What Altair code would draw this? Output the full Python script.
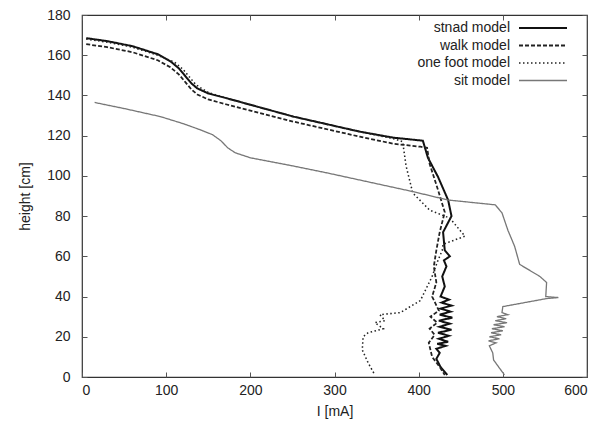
import altair as alt
import pandas as pd

models = ["stnad model", "walk model", "one foot model", "sit model"]

stand_x = [5, 30, 60, 90, 105, 115, 123, 130, 137, 150, 172, 251, 330, 370, 405, 411, 423, 435, 439, 429, 431,
           437, 430, 433, 428, 431, 426, 436, 427, 439, 426, 438, 425, 440, 424, 437, 425, 439, 423, 436, 424,
           435, 422, 432, 421, 425, 421, 426, 434]
stand_y = [168.5, 167, 164.5, 160.5, 157, 153.5, 149.5, 146, 143.5, 141, 138.6, 129.5, 122, 119, 117.5, 109,
           99.5, 88, 80, 72, 63, 60, 58, 55, 50, 45, 40, 38.5, 37, 35.5, 34, 32.5, 31, 29.5, 28, 26.5, 25, 23.5,
           22, 20.5, 19, 17.5, 16.5, 15.5, 14, 12, 9, 5, 1]

walk_x = [5, 30, 60, 90, 105, 115, 123, 130, 137, 150, 172, 251, 330, 370, 402, 410, 413, 423, 431, 425, 421,
          418, 421, 416, 424, 414, 422, 413, 419, 412, 416, 425, 431]
walk_y = [165.5, 164, 161.5, 157.5, 154, 150.5, 146.5, 143, 140.5, 138, 135.5, 127, 119.5, 116, 114.5, 114, 106,
          93, 82, 72, 63, 55, 47, 40, 33, 30, 27, 24, 21, 17, 10, 5, 1]

foot_x = [5, 30, 60, 90, 110, 120, 128, 135, 142, 150, 172, 251, 330, 370, 381, 385, 393, 413, 437, 455, 429,
          428, 422, 416, 402, 378, 354, 360, 348, 358, 340, 334, 333, 340, 348]
foot_y = [168, 166.5, 164, 160, 156.5, 153, 149, 145.5, 143.5, 141.5, 138.6, 129.5, 122, 118.5, 117, 105, 91.5,
          83, 79, 70, 66, 63, 57, 50, 38, 32, 31, 28, 27, 24, 22, 20, 13.5, 7, 1]

sit_x = [15, 50, 93, 120, 140, 155, 165, 173, 182, 200, 250, 291, 393, 435, 491, 499, 506, 514, 520, 544, 552,
         551, 566, 552, 500, 499, 506, 493, 504, 491, 505, 489, 502, 487, 500, 486, 498, 484, 496, 483, 492, 484,
         488, 489, 495, 502]
sit_y = [136.5, 133.5, 129.5, 126, 123, 120.5, 117.5, 114, 111.5, 109, 105, 101.5, 92.2, 88, 85.6, 81.6, 73, 65,
         56, 50, 47, 40, 39.5, 39, 35, 32, 31, 30, 29, 28, 27, 26, 25, 24, 23, 22, 21, 20, 19, 18, 17, 15.5, 12,
         8.5, 5, 1]

x_ticks = [0, 100, 200, 300, 400, 500, 600]
y_ticks = [0, 20, 40, 60, 80, 100, 120, 140, 160, 180]

rows = []
for name, xs, ys in zip(models, [stand_x, walk_x, foot_x, sit_x], [stand_y, walk_y, foot_y, sit_y]):
    for i, (xv, yv) in enumerate(zip(xs, ys)):
        rows.append({"model": name, "I": xv, "h": yv, "idx": i})
df = pd.DataFrame(rows)

FONT = "Liberation Sans"

xscale = alt.Scale(domain=[0, 600], nice=False)
yscale = alt.Scale(domain=[0, 180], nice=False)

lines = alt.Chart(df).mark_line().encode(
    x=alt.X("I:Q", scale=xscale, axis=alt.Axis(
        values=x_ticks, title="I [mA]", orient="bottom", offset=-5, tickSize=5, labelPadding=6,
        titlePadding=7, domain=False, grid=False, labelFontSize=14, titleFontSize=14,
        labelFont=FONT, titleFont=FONT, titleFontWeight="normal", labelColor="#222", titleColor="#222",
        tickColor="#555")),
    y=alt.Y("h:Q", scale=yscale, axis=alt.Axis(
        values=y_ticks, title="height [cm]", orient="left", offset=-5, tickSize=5, labelPadding=12,
        titlePadding=14, domain=False, grid=False, labelFontSize=14, titleFontSize=14,
        labelFont=FONT, titleFont=FONT, titleFontWeight="normal", labelColor="#222", titleColor="#222",
        tickColor="#555")),
    order="idx:Q",
    color=alt.Color("model:N", scale=alt.Scale(domain=models, range=["#111", "#222", "#222", "#777"]),
                    legend=alt.Legend(title=None, orient="none", legendX=452, legendY=4,
                                      symbolType="M-3,0H3", symbolSize=256, labelAlign="right",
                                      labelOffset={"expr": "-42"}, labelFontSize=14, labelFont=FONT,
                                      labelColor="#222", rowPadding=1.5, padding=0,
                                      symbolStrokeWidth=1.5, symbolFillColor="transparent")),
    strokeDash=alt.StrokeDash("model:N", scale=alt.Scale(domain=models, range=[[1, 0], [4, 2], [1.5, 2.5], [1, 0]]),
                              legend=None),
    strokeWidth=alt.StrokeWidth("model:N", scale=alt.Scale(domain=models, range=[2, 1.3, 1.3, 1]),
                                legend=None),
)

mirror = alt.Chart(df).mark_point(opacity=0).encode(
    x=alt.X("I:Q", scale=xscale, axis=alt.Axis(values=x_ticks, orient="top", offset=-5, tickSize=5,
                                               labels=False, title=None, domain=False, grid=False,
                                               tickColor="#555")),
    y=alt.Y("h:Q", scale=yscale, axis=alt.Axis(values=y_ticks, orient="right", offset=-5, tickSize=5,
                                               labels=False, title=None, domain=False, grid=False,
                                               tickColor="#555")),
)

chart = alt.layer(lines, mirror).resolve_axis(x="independent", y="independent").properties(
    width=505, height=362,
    autosize=alt.AutoSizeParams(type="none"),
    padding={"left": 74, "top": 7, "right": 10, "bottom": 50},
).configure_view(stroke="#333", strokeWidth=1.2)

chart.save("out.html", embed_options={"renderer": "svg", "actions": False})
